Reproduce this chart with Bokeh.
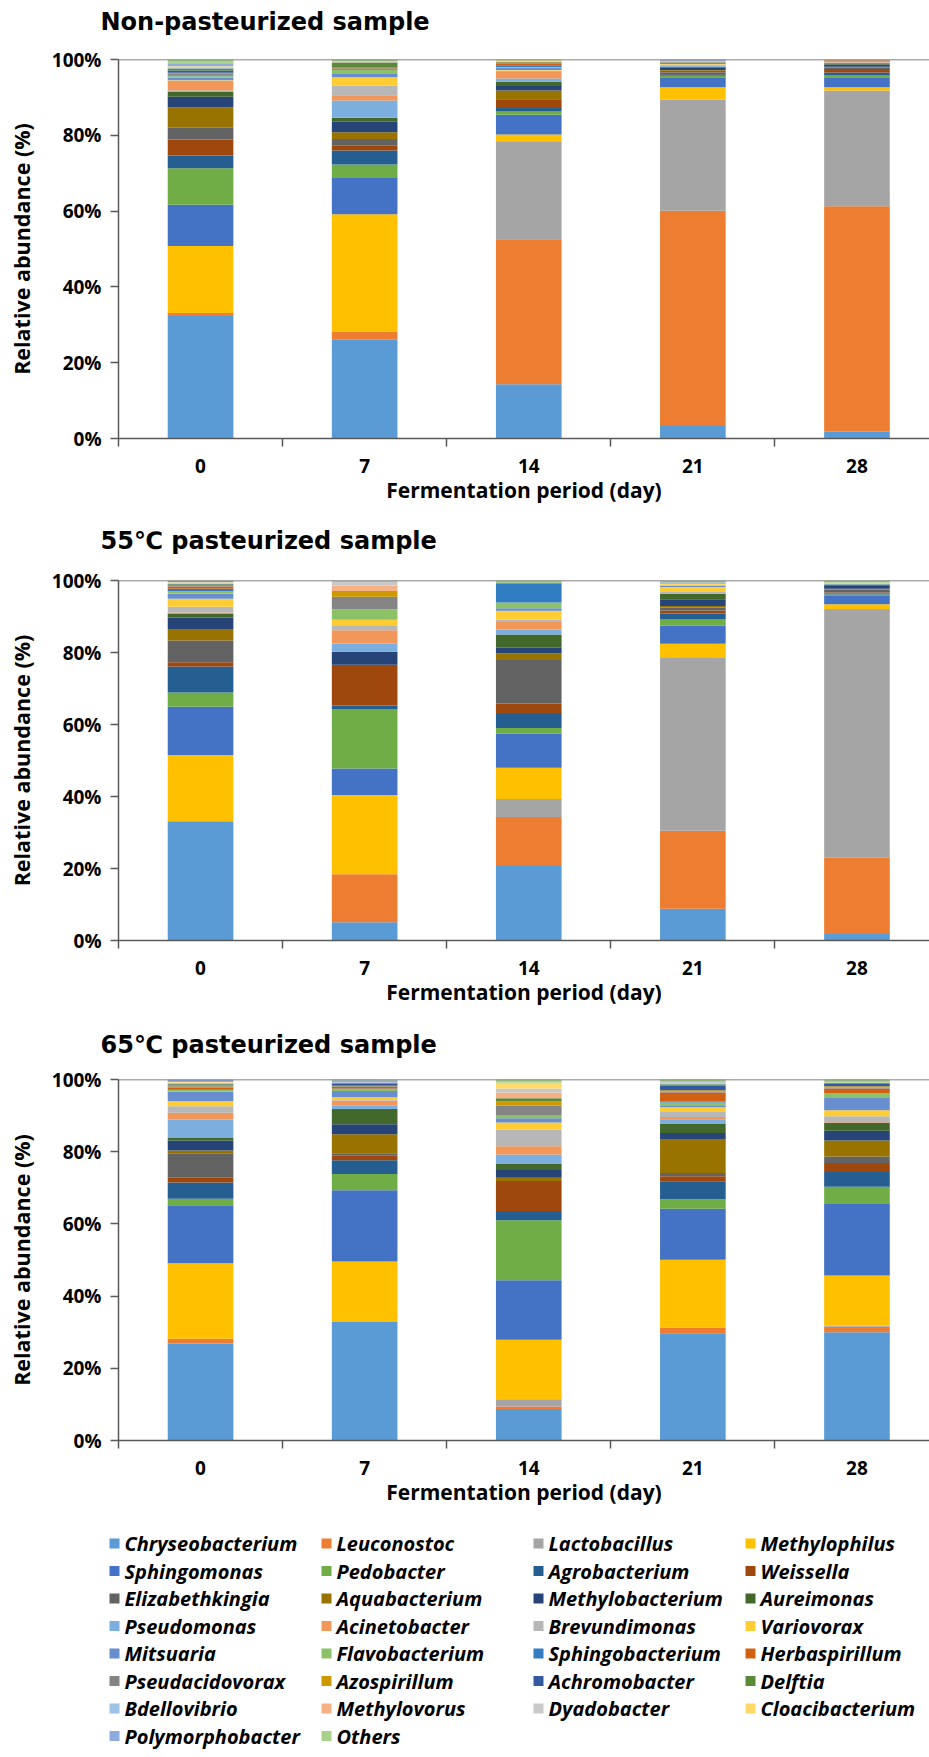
from bokeh.plotting import figure
from bokeh.models import Range1d, FixedTicker, Span, ColumnDataSource
from bokeh.layouts import column
from bokeh.embed import file_html
from bokeh.resources import INLINE
from bokeh.core.properties import value

days = ["0", "7", "14", "21", "28"]

genera = ["Chryseobacterium", "Leuconostoc", "Lactobacillus", "Methylophilus",
          "Sphingomonas", "Pedobacter", "Agrobacterium", "Weissella",
          "Elizabethkingia", "Aquabacterium", "Methylobacterium", "Aureimonas",
          "Pseudomonas", "Acinetobacter", "Brevundimonas", "Variovorax",
          "Mitsuaria", "Flavobacterium", "Sphingobacterium", "Herbaspirillum",
          "Pseudacidovorax", "Azospirillum", "Achromobacter", "Delftia",
          "Bdellovibrio", "Methylovorus", "Dyadobacter", "Cloacibacterium",
          "Polymorphobacter", "Others"]

colors = ["#5B9BD5", "#ED7D31", "#A5A5A5", "#FFC000",
          "#4472C4", "#70AD47", "#255E91", "#9E480E",
          "#636363", "#997300", "#264478", "#43682B",
          "#7CAFDD", "#F1975A", "#B7B7B7", "#FFCD33",
          "#698ED0", "#8CC168", "#327DC2", "#D26012",
          "#848484", "#CC9A00", "#335AA1", "#5A8A39",
          "#9DC3E6", "#F4B183", "#C9C9C9", "#FFD966",
          "#8FAADC", "#A9D18E"]

# Relative abundance (%) of each genus (legend order), per sample and day
non_d0 = [32.3, 0.8, 0.0, 17.7, 10.9, 9.6, 3.4, 4.2, 3.1, 5.4, 2.8, 1.3, 0.3, 2.5, 0.2,
          0.1, 0.6, 0.4, 0.2, 0.1, 0.5, 0.1, 0.6, 0.5, 0.3, 0.1, 0.2, 0.1, 0.5, 1.2]
non_d7 = [26.2, 2.0, 0.0, 31.0, 9.7, 3.4, 3.7, 1.4, 1.6, 1.8, 2.8, 1.0, 4.6, 1.4, 2.5,
          2.2, 1.1, 0.9, 0.2, 0.1, 0.2, 0.1, 0.1, 1.2, 0.1, 0.1, 0.0, 0.0, 0.1, 0.5]
non_d14 = [14.3, 38.3, 25.8, 1.8, 5.2, 0.9, 0.9, 2.3, 0.1, 2.2, 1.2, 1.1, 0.9, 1.7, 0.4,
           0.1, 0.6, 0.2, 0.5, 0.5, 0.1, 0.1, 0.1, 0.1, 0.0, 0.1, 0.0, 0.3, 0.0, 0.2]
non_d21 = [3.3, 56.8, 29.3, 3.3, 2.6, 0.4, 0.4, 0.5, 0.4, 0.2, 0.6, 0.3, 0.2, 0.2, 0.2,
           0.1, 0.3, 0.1, 0.1, 0.1, 0.0, 0.0, 0.0, 0.0, 0.0, 0.3, 0.0, 0.0, 0.3, 0.0]
non_d28 = [1.8, 59.5, 30.5, 0.9, 2.6, 0.5, 0.8, 0.9, 0.4, 0.2, 0.6, 0.3, 0.1, 0.1, 0.2,
           0.0, 0.2, 0.1, 0.0, 0.1, 0.0, 0.0, 0.0, 0.0, 0.0, 0.2, 0.0, 0.0, 0.0, 0.0]

p55_d0 = [33.1, 0.0, 0.0, 18.4, 13.4, 4.0, 7.2, 1.2, 6.0, 3.2, 3.2, 1.1, 0.2, 0.1, 1.6,
          2.2, 1.5, 0.7, 0.6, 0.6, 0.2, 0.1, 0.3, 0.1, 0.2, 0.1, 0.1, 0.1, 0.4, 0.1]
p55_d7 = [5.1, 13.3, 0.0, 22.0, 7.4, 16.4, 1.1, 11.3, 0.0, 0.0, 3.6, 0.0, 2.3, 3.7, 1.4,
          1.5, 0.0, 2.9, 0.0, 0.0, 3.5, 1.6, 0.0, 0.0, 0.0, 1.5, 1.4, 0.0, 0.0, 0.0]
p55_d14 = [20.7, 13.6, 5.0, 8.7, 9.4, 1.6, 4.2, 2.6, 12.1, 1.8, 1.6, 3.7, 1.4, 2.1, 0.6,
           2.5, 0.7, 1.6, 5.3, 0.0, 0.0, 0.0, 0.0, 0.1, 0.0, 0.0, 0.0, 0.0, 0.0, 0.7]
p55_d21 = [8.8, 21.7, 48.2, 3.7, 5.0, 1.8, 1.6, 0.9, 0.8, 0.4, 1.9, 1.5, 0.1, 0.1, 0.3,
           1.4, 0.4, 0.0, 0.0, 0.0, 0.0, 0.0, 0.0, 0.0, 0.0, 0.0, 0.1, 0.4, 0.4, 0.5]
p55_d28 = [1.8, 21.2, 69.1, 1.3, 2.5, 0.2, 0.3, 0.3, 0.8, 0.2, 1.0, 0.2, 0.1, 0.1, 0.0,
           0.3, 0.0, 0.0, 0.0, 0.0, 0.0, 0.0, 0.0, 0.0, 0.0, 0.0, 0.0, 0.0, 0.0, 0.6]

p65_d0 = [26.9, 1.3, 0.0, 20.9, 16.1, 1.8, 4.5, 1.4, 6.7, 0.7, 2.8, 0.7, 5.1, 1.9, 1.8,
          1.4, 2.7, 0.4, 0.2, 0.5, 0.3, 0.3, 0.2, 0.2, 0.2, 0.1, 0.1, 0.1, 0.6, 0.1]
p65_d7 = [32.8, 0.0, 0.0, 16.8, 19.7, 4.5, 3.8, 1.3, 0.7, 5.2, 2.8, 4.2, 0.9, 1.5, 0.3,
          0.6, 1.7, 0.5, 0.2, 0.4, 0.2, 0.2, 0.6, 0.1, 0.1, 0.1, 0.0, 0.0, 0.6, 0.2]
p65_d14 = [8.7, 0.7, 2.0, 16.5, 16.5, 16.6, 2.6, 8.3, 0.0, 0.9, 2.1, 1.7, 2.6, 2.3, 4.6,
           2.0, 1.2, 0.9, 0.0, 0.0, 2.6, 1.1, 0.0, 0.9, 0.0, 1.6, 1.1, 1.6, 0.0, 0.9]
p65_d21 = [29.7, 1.6, 0.0, 18.8, 14.1, 2.6, 5.0, 1.4, 0.9, 9.4, 1.7, 2.6, 1.2, 0.6, 1.6,
           1.1, 0.6, 0.7, 0.3, 2.5, 0.2, 0.4, 1.3, 0.4, 0.2, 0.1, 0.1, 0.1, 0.1, 0.7]
p65_d28 = [30.0, 1.5, 0.3, 13.9, 20.0, 4.6, 4.1, 2.5, 1.8, 4.4, 2.7, 2.2, 0.1, 0.1, 1.6,
           1.7, 3.4, 1.2, 0.1, 1.3, 0.3, 0.3, 0.7, 0.2, 0.1, 0.0, 0.0, 0.0, 0.0, 0.9]

y_ticks = [0, 20, 40, 60, 80, 100]

FIG_W = 929
FONT = "Open Sans"
AXIS_COLOR = "#595959"


def blank_canvas(height):
    f = figure(width=FIG_W, height=height, x_range=Range1d(0, FIG_W),
               y_range=Range1d(height, 0), output_backend="svg", title=None,
               toolbar_location=None, x_axis_location=None,
               y_axis_location=None, min_border=0, min_border_left=0,
               min_border_right=0, min_border_top=0, min_border_bottom=0)
    f.frame_align = False
    f.grid.visible = False
    f.outline_line_color = None
    return f


def make_title(text, height, middle):
    t = blank_canvas(height)
    t.text(x=[100], y=[middle], text=[text], text_font=value("DejaVu Sans"),
           text_font_style="bold", text_font_size="24px", text_color="#000000",
           text_align="left", text_baseline="middle")
    return t


def make_panel(series, border_top, frame_h, border_bottom):
    data = {"x": list(range(len(days)))}
    for i, g in enumerate(genera):
        data[g] = [s[i] for s in series]
    src = ColumnDataSource(data)

    p = figure(width=FIG_W, height=border_top + frame_h + border_bottom,
               x_range=Range1d(-0.5, 4.442), y_range=Range1d(0, 100),
               output_backend="svg", toolbar_location=None, title=None,
               min_border_left=118, min_border_right=0,
               min_border_top=border_top, min_border_bottom=border_bottom)
    p.frame_align = False
    p.vbar_stack(genera, x="x", width=0.4, fill_color=colors, line_color=None,
                 source=src)

    p.xgrid.visible = False
    p.ygrid.visible = False
    p.outline_line_color = None
    p.background_fill_color = "white"

    p.add_layout(Span(location=100, dimension="width", line_color=AXIS_COLOR,
                      line_width=1.5))

    xa = p.xaxis[0]
    xa.ticker = FixedTicker(ticks=list(range(len(days))),
                            minor_ticks=[-0.5, 0.5, 1.5, 2.5, 3.5])
    xa.major_label_overrides = {i: d for i, d in enumerate(days)}
    xa.major_tick_out = 0
    xa.major_tick_in = 0
    xa.minor_tick_out = 8
    xa.minor_tick_in = 0
    xa.minor_tick_line_color = AXIS_COLOR
    xa.minor_tick_line_width = 1.5
    xa.axis_line_color = AXIS_COLOR
    xa.axis_line_width = 1.5
    xa.major_label_text_font = FONT
    xa.major_label_text_font_style = "bold"
    xa.major_label_text_font_size = "19px"
    xa.major_label_text_color = "#000000"
    xa.major_label_standoff = 12
    xa.axis_label = "Fermentation period (day)"
    xa.axis_label_text_font = FONT
    xa.axis_label_text_font_style = "bold"
    xa.axis_label_text_font_size = "21px"
    xa.axis_label_text_color = "#000000"
    xa.axis_label_standoff = 0

    ya = p.yaxis[0]
    ya.ticker = FixedTicker(ticks=y_ticks)
    ya.major_label_overrides = {v: f"{v}%" for v in y_ticks}
    ya.major_tick_out = 8
    ya.major_tick_in = 0
    ya.major_tick_line_color = AXIS_COLOR
    ya.major_tick_line_width = 1.5
    ya.minor_tick_line_color = None
    ya.axis_line_color = AXIS_COLOR
    ya.axis_line_width = 1.5
    ya.major_label_text_font = FONT
    ya.major_label_text_font_style = "bold"
    ya.major_label_text_font_size = "19px"
    ya.major_label_text_color = "#000000"
    ya.major_label_standoff = 9
    ya.axis_label = "Relative abundance (%)"
    ya.axis_label_text_font = FONT
    ya.axis_label_text_font_style = "bold"
    ya.axis_label_text_font_size = "21.5px"
    ya.axis_label_text_color = "#000000"
    ya.axis_label_standoff = 13
    return p


t1 = make_title("Non-pasteurized sample", 40, 21)
p1 = make_panel([non_d0, non_d7, non_d14, non_d21, non_d28], 19, 379, 70)
t2 = make_title("55\u2103 pasteurized sample", 48, 32)
p2 = make_panel([p55_d0, p55_d7, p55_d14, p55_d21, p55_d28], 24, 363, 65)
t3 = make_title("65\u2103 pasteurized sample", 52, 36)
p3 = make_panel([p65_d0, p65_d7, p65_d14, p65_d21, p65_d28], 19, 364, 65)

# Legend drawn on its own canvas (pixel coordinates)
LG_H = 247
lg = blank_canvas(LG_H)
ncols = 4
col_left = 109
col_step = 212
row_top = 35
row_step = 27.5
mx, my, tx = [], [], []
for k in range(len(genera)):
    r, c = divmod(k, ncols)
    mx.append(col_left + col_step * c + 5)
    my.append(row_top + row_step * r)
    tx.append(col_left + col_step * c + 15)
lsrc = ColumnDataSource(dict(mx=mx, my=my, tx=tx, name=genera, color=colors))
lg.rect(x="mx", y="my", width=10, height=10, fill_color="color",
        line_color=None, source=lsrc)
lg.text(x="tx", y="my", text="name", source=lsrc, text_baseline="middle",
        text_align="left", text_font=value(FONT), text_font_style="bold italic",
        text_font_size="20px", text_color="#000000")

layout = column(t1, p1, t2, p2, t3, p3, lg, spacing=0)
open("out.html", "w").write(file_html(layout, INLINE))
